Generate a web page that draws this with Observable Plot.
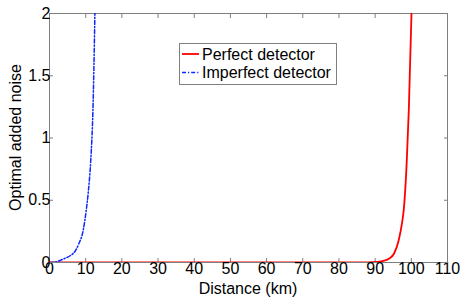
<!DOCTYPE html>
<html>
<head>
<meta charset="utf-8">
<script src="https://cdn.jsdelivr.net/npm/d3@7"></script>
<script src="https://cdn.jsdelivr.net/npm/@observablehq/plot@0.6"></script>
<style>
  html, body { margin: 0; padding: 0; background: #fff; }
  svg { font-family: "Liberation Sans", Arial, sans-serif; }
</style>
</head>
<body>
<div id="chart"></div>
<script>
// Data
const perfectX = [0, 85, 88, 90.6, 92.5, 93.8, 95.2, 96.5, 97.5, 97.9, 98.75, 99.3, 100.05];
const perfectY = [0, 0, 0.001, 0.005, 0.015, 0.03, 0.07, 0.177, 0.33, 0.42, 0.82, 1.22, 2.0];
const imperfectX = [0, 1.2, 4, 5.8, 7.2, 8.1, 9.3, 10.2, 10.7, 11.4, 12.0, 12.55];
const imperfectY = [0, 0.002, 0.03, 0.056, 0.096, 0.15, 0.257, 0.43, 0.56, 0.82, 1.22, 2.0];
const xTicks = [0, 10, 20, 30, 40, 50, 60, 70, 80, 90, 100, 110];
const yTicks = [0, 0.5, 1, 1.5, 2];
const seriesNames = ["Perfect detector", "Imperfect detector"];
const seriesColors = ["#ff0000", "#0a28ff"];

const perfect = perfectX.map((x, i) => ({x, y: perfectY[i]}));
const imperfect = imperfectX.map((x, i) => ({x, y: imperfectY[i]}));

const W = 463, H = 301;
const M = {left: 49, right: 16, top: 13, bottom: 39};
const frameColor = "#7f7f7f";
const FS = 16;
const dash = "4,2,1.2,2";

const chart = Plot.plot({
  width: W,
  height: H,
  marginLeft: M.left,
  marginRight: M.right,
  marginTop: M.top,
  marginBottom: M.bottom,
  style: {fontFamily: '"Liberation Sans", Arial, sans-serif', background: "#fff", overflow: "visible"},
  x: {domain: [0, 110], range: [M.left, W - M.right]},
  y: {domain: [0, 2], range: [H - M.bottom, M.top]},
  marks: [
    Plot.frame({stroke: frameColor, strokeWidth: 1}),
    Plot.axisX(xTicks, {anchor: "bottom", tickSize: -4, tickPadding: 4, stroke: frameColor, fontSize: FS, fill: "#000", label: null, tickFormat: d => d}),
    Plot.axisX(xTicks, {anchor: "top", tickSize: -4, stroke: frameColor, text: null, label: null}),
    Plot.axisY(yTicks, {anchor: "left", tickSize: -4, tickPadding: 3, stroke: frameColor, fontSize: FS, fill: "#000", label: null, tickFormat: d => d}),
    Plot.axisY(yTicks, {anchor: "right", tickSize: -4, stroke: frameColor, text: null, label: null}),
    Plot.line(perfect, {x: "x", y: "y", stroke: seriesColors[0], strokeWidth: 1.8, curve: "monotone-x", clip: true}),
    Plot.line(imperfect, {x: "x", y: "y", stroke: seriesColors[1], strokeWidth: 1.5, strokeDasharray: dash, curve: "monotone-x", clip: true})
  ]
});

const svg = d3.select(chart);
// Axis titles
svg.append("text")
  .attr("x", (M.left + W - M.right) / 2)
  .attr("y", 294)
  .attr("text-anchor", "middle")
  .attr("font-size", FS)
  .attr("fill", "#000")
  .text("Distance (km)");
svg.append("text")
  .attr("transform", `translate(21,${(M.top + H - M.bottom) / 2}) rotate(-90)`)
  .attr("text-anchor", "middle")
  .attr("font-size", FS)
  .attr("fill", "#000")
  .text("Optimal added noise");

// Legend
const lg = svg.append("g").attr("text-anchor", "start");
lg.append("rect")
  .attr("x", 179.5).attr("y", 43.5)
  .attr("width", 157).attr("height", 41)
  .attr("fill", "#fff").attr("stroke", frameColor);
seriesNames.forEach((name, i) => {
  const cy = 54 + i * 18.5;
  lg.append("line")
    .attr("x1", 182).attr("x2", 199)
    .attr("y1", cy).attr("y2", cy)
    .attr("stroke", seriesColors[i])
    .attr("stroke-width", i === 1 ? 1.5 : 1.8)
    .attr("stroke-dasharray", i === 1 ? dash : null);
  lg.append("text")
    .attr("x", 202).attr("y", cy + 5.5)
    .attr("text-anchor", "start")
    .attr("font-size", FS)
    .attr("fill", "#000")
    .text(name);
});

document.getElementById("chart").appendChild(chart);
</script>
</body>
</html>
